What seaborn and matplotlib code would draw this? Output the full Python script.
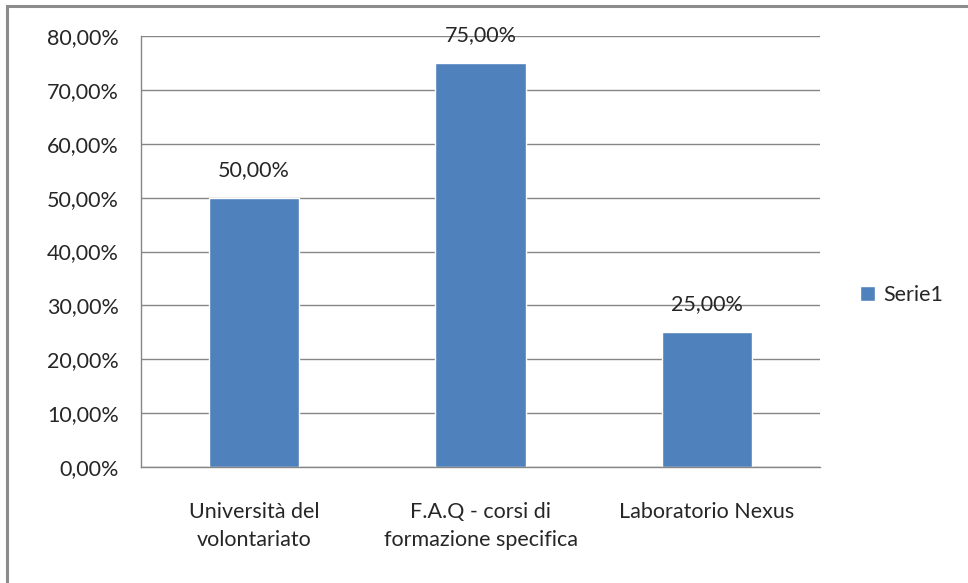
import matplotlib
matplotlib.use('Agg')
import matplotlib.pyplot as plt
import seaborn as sns
import pandas as pd
from matplotlib.patches import Rectangle
from matplotlib.ticker import FuncFormatter

# Data
categories = ['Università del\nvolontariato', 'F.A.Q - corsi di\nformazione specifica', 'Laboratorio Nexus']
values = [0.50, 0.75, 0.25]
series_name = 'Serie1'
y_ticks = [0.0, 0.1, 0.2, 0.3, 0.4, 0.5, 0.6, 0.7, 0.8]

bar_color = '#4F81BD'
grid_color = '#868686'
text_color = '#262626'

sns.set_style('white')
plt.rcParams['font.family'] = ['Lato', 'DejaVu Sans']

df = pd.DataFrame({'cat': categories, 'val': values})

fig = plt.figure(figsize=(9.68, 5.83), dpi=100)
ax = fig.add_axes([0.1457, 0.199, 0.7015, 0.739])

sns.barplot(data=df, x='cat', y='val', color=bar_color, width=0.4,
            saturation=1, label=series_name, ax=ax)

ax.set_ylim(0, 0.8)
ax.set_xlim(-0.5, 2.5)
ax.set_yticks(y_ticks)
ax.yaxis.set_major_formatter(FuncFormatter(lambda v, p: f'{v*100:.2f}%'.replace('.', ',')))
ax.grid(axis='y', color=grid_color, lw=1)
ax.set_axisbelow(True)
ax.set_xlabel('')
ax.set_ylabel('')

for s in ['top', 'right']:
    ax.spines[s].set_visible(False)
for s in ['left', 'bottom']:
    ax.spines[s].set_color(grid_color)
    ax.spines[s].set_linewidth(1)

# category boundary ticks
ax.set_xticks([-0.5, 0.5, 1.5, 2.5], minor=True)
ax.tick_params(axis='x', which='minor', length=7, color=grid_color, width=1)
ax.tick_params(axis='x', which='major', length=0, pad=25, labelsize=15.5,
               labelcolor=text_color)
ax.tick_params(axis='y', length=7, color=grid_color, width=1, pad=9,
               labelsize=15.5, labelcolor=text_color)
for lbl in ax.get_xticklabels():
    lbl.set_linespacing(1.5)

# data labels
for i, v in enumerate(values):
    ax.annotate(f'{v*100:.2f}%'.replace('.', ','), (i, v), xytext=(0, 13),
                textcoords='offset points', ha='center', va='bottom',
                fontsize=15.5, color=text_color)

leg = ax.legend(loc='center left', bbox_to_anchor=(1.03, 0.4), frameon=False,
                fontsize=15.5, handlelength=0.7, handleheight=0.7,
                handletextpad=0.4)
for t in leg.get_texts():
    t.set_color(text_color)

# chart outer border
fig.add_artist(Rectangle((7 / 968, -0.1), 1.2, 1 - 6 / 583 + 0.1,
                         transform=fig.transFigure, fill=False,
                         edgecolor='#8c8c8c', lw=2.2))

plt.savefig('out.png', dpi=100)
